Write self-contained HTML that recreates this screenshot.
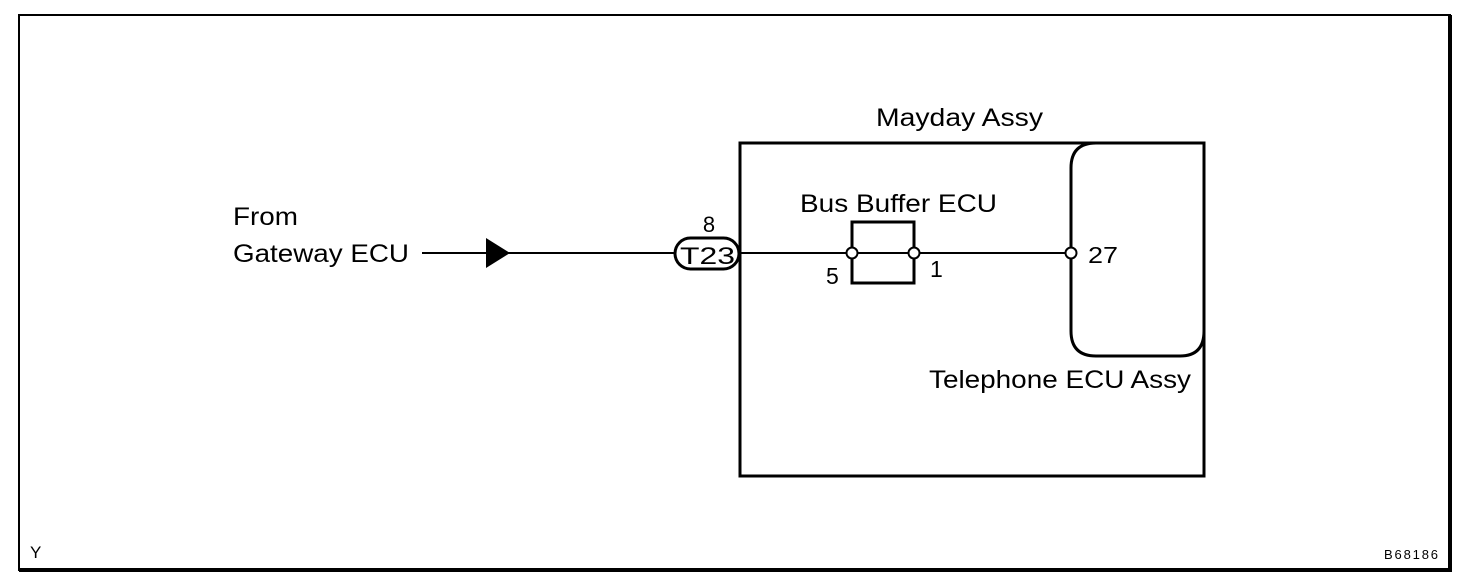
<!DOCTYPE html>
<html><head><style>
html,body{margin:0;padding:0;background:#fff;}
svg{display:block;}
text{font-family:"Liberation Sans",Arial,sans-serif;fill:#000;}
</style></head><body>
<svg width="1472" height="586" viewBox="0 0 1472 586" xmlns="http://www.w3.org/2000/svg">
<rect x="0" y="0" width="1472" height="586" fill="#fff"/>
<rect x="19" y="15" width="1431" height="555" fill="none" stroke="#000" stroke-width="2"/>
<line x1="19" y1="570" x2="1452" y2="570" stroke="#000" stroke-width="4"/>
<line x1="1450" y1="15" x2="1450" y2="572" stroke="#000" stroke-width="4"/>
<rect x="740" y="143" width="464" height="333" fill="none" stroke="#000" stroke-width="3"/>
<path d="M1204 143 H1096 Q1071 143 1071 168 V331 Q1071 356 1096 356 H1180 Q1204 356 1204 331" fill="none" stroke="#000" stroke-width="3"/>
<line x1="422" y1="253" x2="676" y2="253" stroke="#000" stroke-width="2"/>
<line x1="740" y1="253" x2="1070" y2="253" stroke="#000" stroke-width="2"/>
<polygon points="486,238 486,268 510,253" fill="#000"/>
<rect x="675" y="238" width="64" height="31" rx="15.5" fill="#fff" stroke="#000" stroke-width="3"/>
<text x="680" y="264" font-size="24" textLength="55" lengthAdjust="spacingAndGlyphs">T23</text>
<text x="709" y="232" font-size="22" text-anchor="middle">8</text>
<rect x="852" y="222" width="62" height="61" fill="none" stroke="#000" stroke-width="3"/>
<circle cx="852" cy="253" r="5.5" fill="#fff" stroke="#000" stroke-width="2"/>
<circle cx="914" cy="253" r="5.5" fill="#fff" stroke="#000" stroke-width="2"/>
<circle cx="1071" cy="253" r="5.5" fill="#fff" stroke="#000" stroke-width="2"/>
<text x="233" y="225" font-size="25" textLength="65" lengthAdjust="spacingAndGlyphs">From</text>
<text x="233" y="262" font-size="25" textLength="176" lengthAdjust="spacingAndGlyphs">Gateway ECU</text>
<text x="876" y="126" font-size="25" textLength="167" lengthAdjust="spacingAndGlyphs">Mayday Assy</text>
<text x="800" y="212" font-size="25" textLength="197" lengthAdjust="spacingAndGlyphs">Bus Buffer ECU</text>
<text x="826" y="284" font-size="23">5</text>
<text x="930" y="277" font-size="23">1</text>
<text x="1088" y="263" font-size="23" textLength="30" lengthAdjust="spacingAndGlyphs">27</text>
<text x="929" y="388" font-size="25" textLength="262" lengthAdjust="spacingAndGlyphs">Telephone ECU Assy</text>
<text x="30" y="558" font-size="17">Y</text>
<text x="1384" y="559" font-size="13" textLength="54">B68186</text>
</svg>
</body></html>
